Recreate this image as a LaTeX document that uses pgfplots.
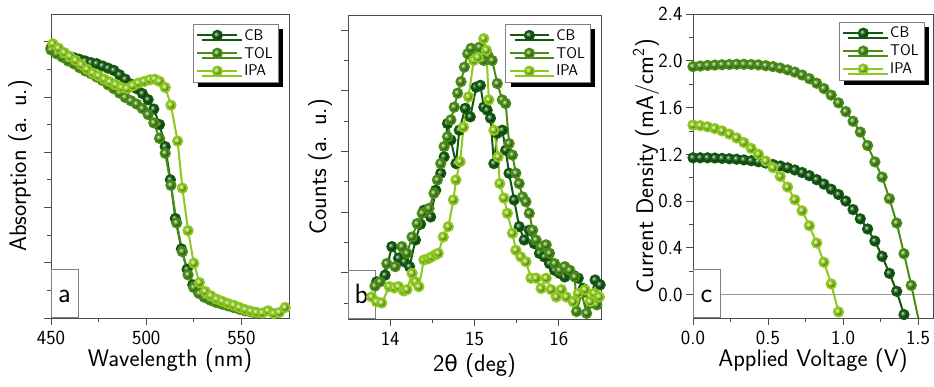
\documentclass[border=0pt]{standalone}
\usepackage{fontspec}
\newfontfamily\dejavu{DejaVu Sans}[Scale=0.92]
\usepackage{pgfplots}
\pgfplotsset{compat=1.18}
\usetikzlibrary{shadows}
\definecolor{cbc}{RGB}{18,88,16}
\definecolor{tolc}{RGB}{72,140,22}
\definecolor{ipac}{RGB}{140,200,30}
\pgfplotsset{
  myax/.style={
    scale only axis, height=304pt, anchor=south west,
    axis line style={black!70, line width=0.8pt},
    every tick/.style={black!70, line width=0.8pt},
    tick align=outside, tick pos=left,
    major tick length=7pt, minor tick length=4pt,
    ticklabel style={font=\sffamily\fontsize{20}{24}\selectfont},
    xticklabel style={yshift=-3pt},
    /pgf/number format/assume math mode=true,
    label style={font=\sffamily\fontsize{24}{28}\selectfont},
    legend cell align=left,
    legend style={draw=black!50, fill=white,
      font=\sffamily\fontsize{15.5}{17}\selectfont, anchor=north east,
      inner xsep=3pt, inner ysep=3pt, row sep=1.5pt,
      /tikz/every odd column/.append style={column sep=4pt},
      drop shadow={shadow xshift=5pt, shadow yshift=-5pt, fill=black, opacity=1}},
    legend image code/.code={\draw[mark repeat=2,mark phase=2,##1] plot coordinates {(0cm,0cm) (0.7cm,0cm) (1.4cm,0cm)};},
  },
  cbs/.style={cbc, line width=2pt, mark=ball, mark options={ball color=cbc}, mark size=4.6pt},
  tols/.style={tolc, line width=2pt, mark=ball, mark options={ball color=tolc}, mark size=4.6pt},
  ipas/.style={ipac, line width=2pt, mark=ball, mark options={ball color=ipac}, mark size=4.6pt},
}
\newcommand{\panellabel}[1]{%
  \node[draw=black!50, line width=0.6pt, fill=white, inner sep=0pt, minimum width=27pt, minimum height=48pt, anchor=south west] at (rel axis cs:0,0) {};
  \node[font=\sffamily\fontsize{28}{28}\selectfont, anchor=base, inner sep=0pt] at ([xshift=13.5pt,yshift=15pt]rel axis cs:0,0) {#1};}
\begin{document}
\begin{tikzpicture}
\path[use as bounding box] (0,0) rectangle (934pt,387pt);
% ---------------- panel a
\begin{axis}[myax, at={(51pt,69pt)}, width=238pt,
  xmin=450, xmax=575, ymin=0, ymax=5.5,
  xtick={450,500,550}, minor x tick num=1,
  ytick={0,1,2,3,4,5}, minor y tick num=1, yticklabels={},
  xlabel={Wavelength (nm)}, ylabel={Absorption (a. u.)},
  xlabel style={at={(axis description cs:0.5,-0.161)}, anchor=base},
  ylabel style={at={(axis description cs:-0.13,0.5)}, anchor=center},
  legend style={at={(axis description cs:0.954,0.967)}}]
\addplot[cbs] coordinates {(450,4.88)(453,4.82)(456,4.78)(459,4.74)(462,4.71)(465,4.68)(468,4.65)(471,4.62)(474,4.60)(477,4.56)(480,4.52)(483,4.48)(486,4.40)(489,4.32)(492,4.23)(495,4.15)(498,4.06)(501,3.95)(504,3.78)(507,3.50)(510,3.10)(512.7,2.50)(515.3,1.80)(518.5,1.25)(521.5,0.88)(524.5,0.60)(527.5,0.46)(530.5,0.38)(533.5,0.33)(536.5,0.29)(539.5,0.26)(542.5,0.23)(545.5,0.20)(548.5,0.17)(551.5,0.14)(554.5,0.12)(557,0.10)};
\addplot[tols] coordinates {(450,4.85)(453,4.78)(456,4.72)(459,4.65)(462,4.60)(465,4.53)(468,4.47)(471,4.42)(474,4.36)(477,4.30)(480,4.22)(483,4.15)(486,4.07)(489,3.99)(492,3.93)(495,3.87)(498,3.79)(501,3.68)(504,3.53)(507,3.25)(510,2.98)(513,2.40)(516,1.72)(519,1.20)(522,0.78)(525,0.55)(528,0.44)(531,0.37)(534,0.32)(537,0.28)(540,0.25)(543,0.22)(546,0.19)(549,0.16)(552,0.13)(555,0.11)(558,0.09)};
\addplot[ipas] coordinates {(451,4.96)(454,4.88)(457,4.80)(460,4.73)(463,4.66)(466,4.58)(469,4.50)(472,4.43)(475,4.38)(478,4.32)(481,4.27)(484,4.22)(487,4.17)(490,4.15)(493,4.20)(496,4.25)(499,4.28)(502,4.31)(504.5,4.32)(507,4.28)(510,4.17)(513,3.85)(516.5,3.20)(519,2.35)(522,1.58)(525,0.99)(528,0.64)(531,0.48)(534,0.40)(537,0.34)(540,0.30)(543,0.26)(546,0.23)(549,0.19)(552,0.15)(555,0.12)(558,0.10)(561,0.09)(564,0.13)(567,0.08)(570,0.10)(573,0.19)};
\legend{CB,TOL,IPA}
\panellabel{a}
\end{axis}
% ---------------- panel b
\begin{axis}[myax, at={(348pt,68pt)}, width=253pt,
  xmin=13.5, xmax=16.5, ymin=0.237, ymax=5.25,
  xtick={14,15,16}, minor x tick num=1,
  ytick={1,2,3,4,5}, minor ytick={0.5,1.5,2.5,3.5,4.5}, yticklabels={},
  xlabel={2{\dejavu θ} (deg)}, ylabel={Counts (a. u.)},
  xlabel style={at={(axis description cs:0.5,-0.174)}, anchor=base},
  ylabel style={at={(axis description cs:-0.11,0.5)}, anchor=center},
  legend style={at={(axis description cs:0.957,0.970)}}]
\addplot[cbs] coordinates {(13.84,0.85)(13.94,0.96)(14.02,1.43)(14.10,1.24)(14.17,1.18)(14.23,1.10)(14.30,1.54)(14.36,1.80)(14.40,2.03)(14.48,1.92)(14.54,2.36)(14.60,2.64)(14.64,2.91)(14.68,3.46)(14.72,3.19)(14.78,2.80)(14.82,3.35)(14.89,3.71)(14.95,3.57)(15.02,4.06)(15.07,4.09)(15.11,3.73)(15.15,3.68)(15.19,3.55)(15.23,2.80)(15.27,3.30)(15.33,3.35)(15.37,3.02)(15.41,2.64)(15.47,2.20)(15.53,1.76)(15.59,1.54)(15.65,1.70)(15.71,1.48)(15.77,1.32)(15.83,1.26)(15.89,1.15)(15.95,1.04)(16.01,0.99)(16.07,0.93)(16.12,0.99)(16.18,0.95)(16.23,0.91)(16.29,0.74)(16.37,0.50)(16.43,0.88)(16.49,0.80)};
\addplot[tols] coordinates {(13.82,0.78)(13.88,0.85)(13.96,1.15)(14.06,1.10)(14.14,1.43)(14.20,1.32)(14.26,1.59)(14.32,1.81)(14.38,1.98)(14.46,2.06)(14.52,2.31)(14.56,2.53)(14.60,2.80)(14.64,3.08)(14.68,3.24)(14.72,3.52)(14.76,3.73)(14.80,3.96)(14.84,4.15)(14.88,4.39)(14.92,4.61)(14.96,4.70)(15.00,4.56)(15.06,4.72)(15.11,4.50)(15.16,4.58)(15.21,4.50)(15.27,4.12)(15.33,3.85)(15.37,3.79)(15.41,3.13)(15.45,2.94)(15.49,2.64)(15.53,2.47)(15.57,2.25)(15.61,2.17)(15.65,1.98)(15.69,1.70)(15.73,1.54)(15.79,1.43)(15.85,1.46)(15.89,1.32)(15.95,1.15)(16.01,1.04)(16.07,1.10)(16.13,1.04)(16.19,0.93)(16.21,0.36)(16.27,0.66)(16.33,0.33)(16.39,0.52)(16.45,0.47)};
\addplot[ipas] coordinates {(13.78,0.60)(13.84,0.52)(13.90,0.50)(13.99,0.77)(14.05,0.75)(14.10,0.77)(14.16,0.70)(14.20,0.72)(14.26,0.99)(14.30,0.85)(14.34,0.77)(14.40,1.21)(14.45,1.23)(14.49,1.26)(14.54,1.30)(14.57,1.32)(14.63,1.59)(14.69,1.76)(14.75,2.20)(14.78,2.53)(14.83,2.83)(14.87,3.40)(14.93,3.90)(14.99,4.50)(15.04,4.55)(15.11,4.86)(15.14,4.67)(15.17,3.85)(15.23,3.35)(15.28,2.91)(15.30,2.47)(15.35,2.23)(15.39,1.98)(15.45,1.65)(15.49,1.37)(15.55,1.26)(15.61,1.18)(15.67,0.91)(15.73,0.91)(15.79,0.74)(15.85,0.91)(15.91,0.72)(15.97,0.60)(16.03,0.72)(16.09,0.60)(16.17,0.52)(16.23,0.66)(16.31,0.72)(16.37,0.52)(16.42,0.66)(16.48,0.60)};
\legend{CB,TOL,IPA}
\panellabel{b}
\end{axis}
% ---------------- panel c
\begin{axis}[myax, at={(693pt,69pt)}, width=240pt,
  xmin=0, xmax=1.6, ymin=-0.2, ymax=2.4,
  xtick={0,0.5,1,1.5}, minor x tick num=1,
  ytick={0,0.4,0.8,1.2,1.6,2.0,2.4}, minor y tick num=1,
  xticklabel style={/pgf/number format/.cd, fixed, fixed zerofill, precision=1},
  yticklabel style={/pgf/number format/.cd, fixed, fixed zerofill, precision=1},
  xlabel={Applied Voltage (V)}, ylabel={Current Density (mA/cm\textsuperscript{2})},
  xlabel style={at={(axis description cs:0.5,-0.161)}, anchor=base},
  ylabel style={at={(axis description cs:-0.196,0.5)}, anchor=center},
  legend style={at={(axis description cs:0.9625,0.974)}}]
\addplot[black!40, line width=0.8pt, forget plot] coordinates {(0,0) (1.6,0)};
\addplot[cbs] coordinates {(0,1.170)(0.0485,1.170)(0.097,1.170)(0.1455,1.168)(0.194,1.165)(0.2425,1.162)(0.291,1.158)(0.3395,1.152)(0.388,1.145)(0.4365,1.136)(0.485,1.125)(0.5335,1.113)(0.582,1.100)(0.6305,1.085)(0.679,1.066)(0.7275,1.044)(0.776,1.017)(0.8245,0.983)(0.873,0.945)(0.9215,0.901)(0.970,0.856)(1.0185,0.800)(1.067,0.727)(1.1155,0.648)(1.164,0.561)(1.2125,0.458)(1.261,0.327)(1.3095,0.182)(1.358,0.028)(1.4065,-0.171)};
\addplot[tols] coordinates {(0,1.950)(0.0485,1.955)(0.097,1.960)(0.1455,1.963)(0.194,1.966)(0.2425,1.968)(0.291,1.970)(0.3395,1.970)(0.388,1.968)(0.4365,1.965)(0.485,1.958)(0.5335,1.950)(0.582,1.938)(0.6305,1.922)(0.679,1.903)(0.7275,1.878)(0.776,1.847)(0.8245,1.808)(0.873,1.762)(0.9215,1.706)(0.970,1.640)(1.0185,1.565)(1.067,1.482)(1.1155,1.390)(1.164,1.275)(1.2125,1.135)(1.261,1.005)(1.3095,0.820)(1.358,0.612)(1.4065,0.350)(1.455,0.079)(1.5035,-0.21)};
\addplot[ipas] coordinates {(0,1.450)(0.0485,1.445)(0.097,1.435)(0.1455,1.420)(0.194,1.400)(0.2425,1.373)(0.291,1.340)(0.3395,1.300)(0.388,1.250)(0.4365,1.200)(0.485,1.142)(0.5335,1.085)(0.582,1.010)(0.6305,0.920)(0.679,0.811)(0.7275,0.717)(0.776,0.589)(0.8245,0.441)(0.873,0.276)(0.9215,0.091)(0.970,-0.148)};
\legend{CB,TOL,IPA}
\panellabel{c}
\end{axis}
\end{tikzpicture}
\end{document}
